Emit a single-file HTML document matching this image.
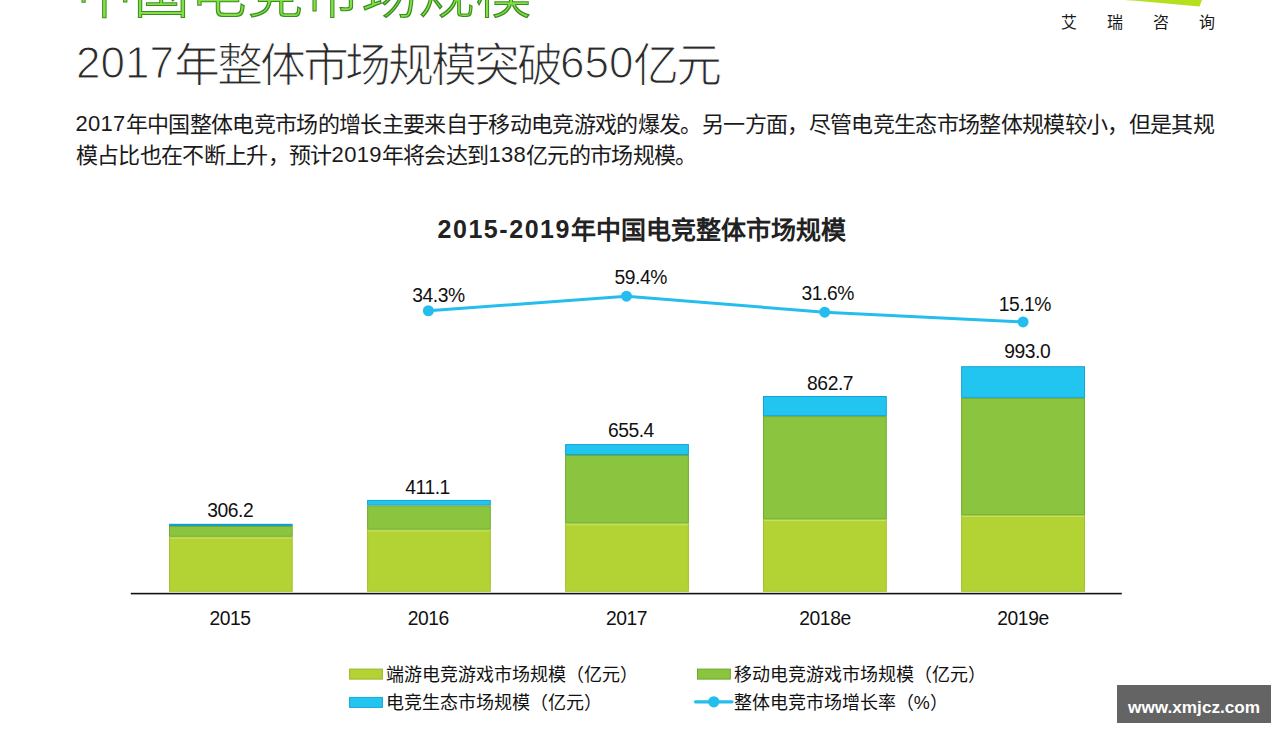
<!DOCTYPE html>
<html lang="zh-CN">
<head>
<meta charset="utf-8">
<style>
html,body{margin:0;padding:0;background:#fff;}
body{width:1280px;height:732px;position:relative;overflow:hidden;font-family:"Liberation Sans",sans-serif;color:#222;}
.a{position:absolute;white-space:nowrap;line-height:1;}
svg{position:absolute;left:0;top:0;}
#t1{left:75.5px;top:-34.6px;font-size:57px;color:#000;filter:url(#gf);}
#t2{left:76px;top:42px;font-size:46px;letter-spacing:-3.1px;color:#2a2a2a;-webkit-text-stroke:1.1px #fff;}
#t2 .d{font-size:44px;letter-spacing:0;position:relative;top:-2.6px;}
#p1,#p2{left:75.5px;font-size:22px;letter-spacing:-0.66px;color:#1a1a1a;}
#p1{top:114px;}
#p2{top:145px;}
.p .d{letter-spacing:0.3px;position:relative;top:-0.8px;}
#logo{left:1060.5px;top:14.5px;font-size:16px;color:#1a1a1a;letter-spacing:30.2px;}
#ct{left:437.5px;top:218px;font-size:25px;font-weight:bold;color:#222;}
#ct .d{letter-spacing:1.55px;position:relative;top:-1.3px;}
.v{position:absolute;font-size:19.3px;letter-spacing:-0.45px;color:#111;line-height:1;white-space:nowrap;transform:translateX(-50%);}
.lg{position:absolute;font-size:18px;letter-spacing:0;color:#111;line-height:1;white-space:nowrap;}
#wm{position:absolute;left:1117.2px;top:685px;width:153.8px;height:37.7px;background:#646464;color:#fff;font-weight:bold;font-size:17.2px;line-height:44.6px;text-align:center;overflow:hidden;}
</style>
</head>
<body>
<svg width="0" height="0" style="position:absolute">
<filter id="gf" x="-2%" y="-10%" width="104%" height="120%" color-interpolation-filters="sRGB">
<feMorphology in="SourceAlpha" operator="erode" radius="1" result="inner"/>
<feFlood flood-color="#3a8c20" result="dk"/>
<feComposite in="dk" in2="SourceAlpha" operator="in" result="outer"/>
<feFlood flood-color="#84de46" result="lt"/>
<feComposite in="lt" in2="inner" operator="in" result="innerc"/>
<feMerge><feMergeNode in="outer"/><feMergeNode in="innerc"/></feMerge>
</filter>
</svg>
<svg width="1280" height="732">
<polygon points="1124,0 1202,0 1199.5,6.5 1136,0.8" fill="#b5e01e"/>
</svg>
<div class="a" id="t1">中国电竞市场规模</div>
<div class="a" id="logo">艾瑞咨询</div>
<div class="a" id="t2"><span class="d">2017</span>年整体市场规模突破<span class="d">650</span>亿元</div>
<div class="a p" id="p1"><span class="d">2017</span>年中国整体电竞市场的增长主要来自于移动电竞游戏的爆发。另一方面，尽管电竞生态市场整体规模较小，但是其规</div>
<div class="a p" id="p2">模占比也在不断上升，预计<span class="d">2019</span>年将会达到<span class="d">138</span>亿元的市场规模。</div>
<div class="a" id="ct"><span class="d">2015-2019</span>年中国电竞整体市场规模</div>

<svg width="1280" height="732">
<g stroke-width="1">
<rect x="169.5" y="537.3" width="122.7" height="54.0" fill="#b3d334" stroke="#a2c22c"/>
<rect x="170.0" y="537.4" width="121.7" height="1.2" fill="#c3e458"/>
<rect x="169.5" y="526.5" width="122.7" height="9.8" fill="#8bc540" stroke="#72ac2c"/>
<rect x="169.0" y="523.8" width="123.7" height="2.2" fill="#129fd0"/>
<rect x="367.6" y="530.2" width="122.7" height="61.1" fill="#b3d334" stroke="#a2c22c"/>
<rect x="368.1" y="530.3" width="121.7" height="1.2" fill="#c3e458"/>
<rect x="367.6" y="505.9" width="122.7" height="23.3" fill="#8bc540" stroke="#72ac2c"/>
<rect x="367.6" y="500.4" width="122.7" height="4.5" fill="#22c5f0" stroke="#17a3d4"/>
<rect x="565.6" y="524.0" width="122.8" height="67.3" fill="#b3d334" stroke="#a2c22c"/>
<rect x="566.1" y="524.1" width="121.8" height="1.2" fill="#c3e458"/>
<rect x="565.6" y="455.5" width="122.8" height="67.5" fill="#8bc540" stroke="#72ac2c"/>
<rect x="565.6" y="444.6" width="122.8" height="9.9" fill="#22c5f0" stroke="#17a3d4"/>
<rect x="763.5" y="519.8" width="122.8" height="71.5" fill="#b3d334" stroke="#a2c22c"/>
<rect x="764.0" y="519.9" width="121.8" height="1.2" fill="#c3e458"/>
<rect x="763.5" y="416.6" width="122.8" height="102.2" fill="#8bc540" stroke="#72ac2c"/>
<rect x="763.5" y="396.5" width="122.8" height="19.1" fill="#22c5f0" stroke="#17a3d4"/>
<rect x="961.6" y="515.7" width="122.9" height="75.6" fill="#b3d334" stroke="#a2c22c"/>
<rect x="962.1" y="515.8" width="121.9" height="1.2" fill="#c3e458"/>
<rect x="961.6" y="398.4" width="122.9" height="116.3" fill="#8bc540" stroke="#72ac2c"/>
<rect x="961.6" y="366.7" width="122.9" height="30.7" fill="#22c5f0" stroke="#17a3d4"/>
</g>
<rect x="130.8" y="592.8" width="991" height="1.6" fill="#111"/>
<polyline points="428.4,310.75 626.5,296.2 824.7,312.2 1023.1,321.9" fill="none" stroke="#25bdee" stroke-width="3"/>
<circle cx="428.4" cy="310.75" r="5.5" fill="#25bdee"/>
<circle cx="626.5" cy="296.2" r="5.5" fill="#25bdee"/>
<circle cx="824.7" cy="312.2" r="5.5" fill="#25bdee"/>
<circle cx="1023.1" cy="321.9" r="5.5" fill="#25bdee"/>
<!-- legend swatches -->
<rect x="349.6" y="669.1" width="32.8" height="10" fill="#b3d334" stroke="#98b527" stroke-width="1"/>
<rect x="697.5" y="669.1" width="32.8" height="10" fill="#8bc540" stroke="#6fa52a" stroke-width="1"/>
<rect x="349.6" y="697.4" width="32.8" height="10" fill="#22c5f0" stroke="#1aa6d6" stroke-width="1"/>
<line x1="695.5" y1="701.8" x2="732" y2="701.8" stroke="#25bdee" stroke-width="3.2" stroke-linecap="round"/>
<circle cx="713.8" cy="701.8" r="5.6" fill="#25bdee"/>
</svg>

<!-- value labels (centers) -->
<div class="v" style="left:230.2px;top:501px">306.2</div>
<div class="v" style="left:427.6px;top:478px">411.1</div>
<div class="v" style="left:630.9px;top:420.7px">655.4</div>
<div class="v" style="left:830.1px;top:374px">862.7</div>
<div class="v" style="left:1027.3px;top:342px">993.0</div>

<div class="v" style="left:438.45px;top:286px">34.3%</div>
<div class="v" style="left:640.7px;top:268.2px">59.4%</div>
<div class="v" style="left:827.8px;top:284.2px">31.6%</div>
<div class="v" style="left:1024.85px;top:295px">15.1%</div>

<div class="v" style="left:230.1px;top:609px">2015</div>
<div class="v" style="left:428.2px;top:609px">2016</div>
<div class="v" style="left:626.5px;top:609px">2017</div>
<div class="v" style="left:825px;top:609px">2018e</div>
<div class="v" style="left:1023px;top:609px">2019e</div>

<!-- legend text -->
<div class="lg" style="left:385.7px;top:665.6px">端游电竞游戏市场规模（亿元）</div>
<div class="lg" style="left:733.7px;top:665.6px">移动电竞游戏市场规模（亿元）</div>
<div class="lg" style="left:385.7px;top:693.6px">电竞生态市场规模（亿元）</div>
<div class="lg" style="left:733.7px;top:693.6px">整体电竞市场增长率（%）</div>

<div id="wm">www.xmjcz.com</div>
</body>
</html>
